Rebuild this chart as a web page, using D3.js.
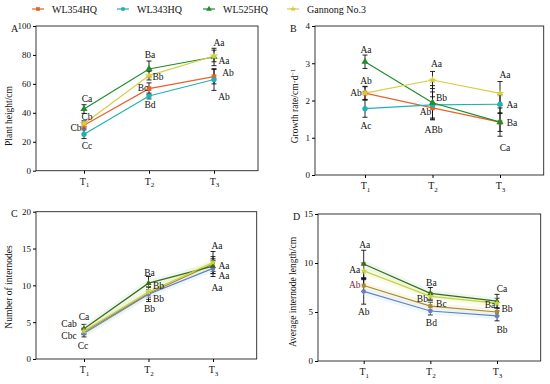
<!DOCTYPE html>
<html>
<head>
<meta charset="utf-8">
<script src="https://cdn.jsdelivr.net/npm/d3@7"></script>
<style>
  body { margin: 0; background: #fff; }
  svg text { font-family: "Liberation Serif", "Times New Roman", serif; fill: #111; }
</style>
</head>
<body>
<div id="chart"></div>
<script>
// data
var times = ["T1", "T2", "T3"];
var cultivars = ["WL354HQ", "WL343HQ", "WL525HQ", "Gannong No.3"];

// A: plant height (cm)
var heightMean = [[31.4, 56.7, 65.0], [25.2, 51.6, 63.0], [42.6, 70.3, 78.6], [32.5, 65.7, 79.3]];
var heightErr  = [[2.0, 4.0, 5.0], [3.0, 2.0, 7.5], [3.0, 5.5, 6.0], [2.0, 3.0, 4.0]];
var heightLetters = ["Ca", "Cb", "Cb", "Cc", "Ba", "Bb", "Bc", "Bd", "Aa", "Aa", "Ab", "Ab"];

// B: growth rate (cm/d)
var rateMean = [[2.20, 1.80, 1.42], [1.78, 1.88, 1.90], [3.04, 1.94, 1.42], [2.20, 2.55, 2.19]];
var rateErr  = [[0.17, 0.30, 0.25], [0.23, 0.35, 0.25], [0.18, 0.46, 0.38], [0.18, 0.23, 0.32]];
var rateLetters = ["Aa", "Ab", "Ab", "Ac", "Aa", "Bb", "Ab", "ABb", "Aa", "Aa", "Ba", "Ca"];

// C: number of internodes
var nodeMean = [[3.7, 8.9, 12.9], [3.5, 8.8, 12.3], [4.1, 10.3, 12.6], [3.8, 9.1, 13.1]];
var nodeErr  = [[0.4, 0.8, 1.0], [0.5, 1.0, 1.1], [0.6, 0.9, 1.0], [0.4, 0.7, 1.5]];
var nodeLetters = ["Ca", "Cab", "Cbc", "Cc", "Ba", "Bb", "Bb", "Bb", "Aa", "Aa", "Aa", "Aa"];

// D: average internode length (cm)
var lengthMean = [[7.7, 5.6, 5.0], [7.1, 5.1, 4.6], [9.9, 6.9, 6.1], [9.2, 6.6, 5.9]];
var lengthErr  = [[0.6, 0.4, 0.4], [1.3, 0.4, 0.5], [1.4, 0.6, 0.7], [0.8, 0.4, 0.5]];
var lengthLetters = ["Aa", "Aa", "Ab", "Ab", "Ba", "Bb", "Bc", "Bd", "Ca", "Ba", "Bb", "Bb"];

// letter placement: [time index, dx in px, y in data units]
var heightLetterPos = [[0,3,49.5],[0,3,37.1],[0,-8,29.5],[0,3,17.1],[1,1,80],[1,9,64.8],[1,-6,57.2],[1,1,45.4],[2,5,88.3],[2,10,75.8],[2,14,67.5],[2,10,50.9]];
var rateLetterPos = [[0,1,3.36],[0,1,2.52],[0,-9,2.21],[0,1,1.32],[1,4,3.0],[1,9,2.08],[1,-7,1.70],[1,1,1.23],[2,5,2.70],[2,12,1.88],[2,12,1.41],[2,5,0.74]];
var nodeLetterPos = [[0,0,5.74],[0,-15,4.75],[0,-15,3.17],[0,-1,1.81],[1,1,11.77],[1,10,9.96],[1,10,8.24],[1,1,6.79],[2,4,15.4],[2,11,12.67],[2,11,11.27],[2,4,9.73]];
var lengthLetterPos = [[0,1,11.9],[0,-9,9.29],[0,-9,7.76],[0,0,5.03],[1,1,8.03],[1,-8,6.4],[1,11,5.89],[1,1,3.95],[2,5,7.42],[2,-7,5.71],[2,10,5.38],[2,5,3.16]];

var colorsAB = ["#e9622b", "#20b1b6", "#1e8d2c", "#d8cd44"];
var colorsCD = ["#a98a30", "#6a7ec6", "#3b6a1e", "#c4d33a"];
var glowCD   = ["#f2eccb", "#d3edf6", "#d6eed6", "#eef6c2"];
var symbols  = [d3.symbolSquare, d3.symbolCircle, d3.symbolTriangle, d3.symbolStar];

var svg = d3.select("#chart").append("svg")
  .attr("width", 550)
  .attr("height", 384);

// legend
var legendX = [32, 117, 203, 287];
cultivars.forEach(function (c, i) {
  var g = svg.append("g").attr("transform", "translate(" + legendX[i] + ",9)");
  g.append("line").attr("x1", 0).attr("x2", 12).attr("y1", 0).attr("y2", 0)
    .attr("stroke", colorsAB[i]).attr("stroke-width", 1.2);
  g.append("path").attr("d", d3.symbol().type(symbols[i]).size(14)())
    .attr("transform", "translate(6,0)").attr("fill", colorsAB[i]);
  g.append("text").attr("x", 20).attr("y", 0).attr("dy", "0.35em")
    .style("font-size", "10px").text(c);
});

function panel(opt) {
  var x = d3.scalePoint().domain(times).range([opt.t1, opt.t3]);
  var y = d3.scaleLinear().domain([0, opt.max]).range([opt.bottom, opt.top]);

  // frame
  svg.append("rect")
    .attr("x", opt.left).attr("y", opt.top)
    .attr("width", opt.right - opt.left).attr("height", opt.bottom - opt.top)
    .attr("fill", "none").attr("stroke", "#222").attr("stroke-width", 0.9);

  var ya = svg.append("g")
    .attr("transform", "translate(" + opt.left + ",0)")
    .call(d3.axisLeft(y).tickValues(opt.ticks).tickFormat(d3.format("d")).tickSize(3).tickPadding(2));
  ya.select(".domain").remove();
  ya.selectAll("text").style("font-size", "9px").style("font-family", "Liberation Serif");

  var xa = svg.append("g")
    .attr("transform", "translate(0," + opt.bottom + ")")
    .call(d3.axisBottom(x).tickSize(3).tickFormat(""));
  xa.select(".domain").remove();
  xa.selectAll(".tick").append("text")
    .attr("y", 14).attr("text-anchor", "middle").attr("fill", "#111")
    .style("font-size", "10px").style("font-family", "Liberation Serif")
    .each(function (d) {
      var t = d3.select(this);
      t.append("tspan").text("T");
      t.append("tspan").attr("dy", 2.5).style("font-size", "7px").text(d.slice(1));
    });

  // panel letter
  svg.append("text").attr("x", opt.left - 25).attr("y", opt.top + 2)
    .attr("dy", "0.35em").style("font-size", "10px").text(opt.letter);

  // y title
  var yt = svg.append("text")
    .attr("transform", "translate(" + opt.titleX + "," + opt.titleY + ") rotate(-90)")
    .attr("text-anchor", "middle").style("font-size", "9.5px");
  yt.append("tspan").text(opt.title);
  if (opt.sup) yt.append("tspan").attr("baseline-shift", "super").style("font-size", "6.5px").text(opt.sup);

  var line = d3.line().x(function (d, i) { return x(times[i]); }).y(function (d) { return y(d); });

  // error bars
  opt.mean.forEach(function (s, k) {
    s.forEach(function (v, i) {
      var e = opt.err[k][i], cx = x(times[i]);
      var g = svg.append("g").attr("stroke", "#111").attr("stroke-width", 0.9);
      g.append("line").attr("x1", cx).attr("x2", cx).attr("y1", y(v - e)).attr("y2", y(v + e));
      g.append("line").attr("x1", cx - 2.5).attr("x2", cx + 2.5).attr("y1", y(v - e)).attr("y2", y(v - e));
      g.append("line").attr("x1", cx - 2.5).attr("x2", cx + 2.5).attr("y1", y(v + e)).attr("y2", y(v + e));
    });
  });

  if (opt.glow) {
    opt.mean.forEach(function (s, k) {
      svg.append("path").attr("d", line(s)).attr("fill", "none")
        .attr("stroke", opt.glow[k]).attr("stroke-width", 7).attr("opacity", 0.4);
    });
  }

  opt.mean.forEach(function (s, k) {
    svg.append("path").attr("d", line(s)).attr("fill", "none")
      .attr("stroke", opt.colors[k]).attr("stroke-width", 1.2);
    s.forEach(function (v, i) {
      svg.append("path").attr("d", d3.symbol().type(symbols[k]).size(opt.glow ? 16 : 22)())
        .attr("transform", "translate(" + x(times[i]) + "," + y(v) + ")")
        .attr("fill", opt.colors[k]);
    });
  });

  // significance letters
  opt.letters.forEach(function (t, j) {
    var p = opt.letterPos[j];
    svg.append("text")
      .attr("x", x(times[p[0]]) + p[1]).attr("y", y(p[2]))
      .attr("dy", "0.35em").attr("text-anchor", "middle")
      .style("font-size", "9.5px")
      .style("fill", opt.letterColor && opt.letterColor[j] ? opt.letterColor[j] : "#111")
      .text(t);
  });
}

panel({ letter: "A", left: 36, right: 258, top: 26, bottom: 170.7, t1: 84, t3: 214,
  max: 100, ticks: [0, 20, 40, 60, 80, 100], mean: heightMean, err: heightErr,
  letters: heightLetters, letterPos: heightLetterPos, colors: colorsAB,
  title: "Plant height/cm", titleX: 12, titleY: 116 });

panel({ letter: "B", left: 315, right: 543.7, top: 26, bottom: 175, t1: 365, t3: 500,
  max: 4, ticks: [0, 1, 2, 3, 4], mean: rateMean, err: rateErr,
  letters: rateLetters, letterPos: rateLetterPos, colors: colorsAB,
  title: "Growth rate/cm\u00b7d", sup: "\u22121", titleX: 298, titleY: 106 });

panel({ letter: "C", left: 36, right: 256.7, top: 211.7, bottom: 359, t1: 84, t3: 213,
  max: 20, ticks: [0, 5, 10, 15, 20], mean: nodeMean, err: nodeErr,
  letters: nodeLetters, letterPos: nodeLetterPos, colors: colorsCD, glow: glowCD,
  title: "Number of internodes", titleX: 12, titleY: 287 });

panel({ letter: "D", left: 318, right: 540.7, top: 214, bottom: 361, t1: 363.7, t3: 497,
  max: 15, ticks: [0, 5, 10, 15], mean: lengthMean, err: lengthErr,
  letters: lengthLetters, letterPos: lengthLetterPos, colors: colorsCD, glow: glowCD,
  letterColor: [null, null, "#8a1d3c"],
  title: "Average internode length/cm", titleX: 296, titleY: 292 });
</script>
</body>
</html>
